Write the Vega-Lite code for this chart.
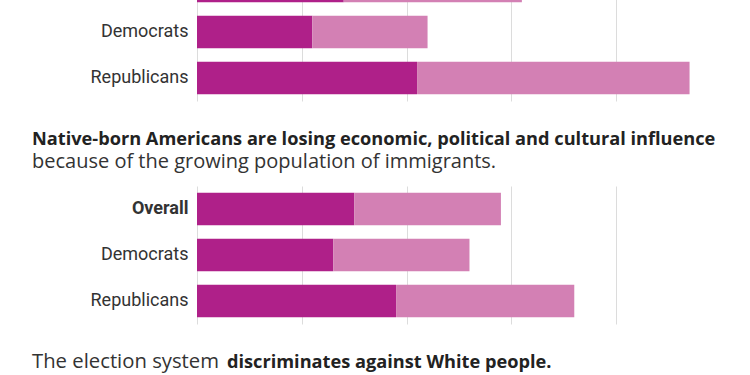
{
  "$schema": "https://vega.github.io/schema/vega-lite/v6.json",
  "padding": {"left": 32, "top": -37, "right": 0, "bottom": 0},
  "background": "white",
  "config": {
    "view": {"stroke": null},
    "font": "Roboto",
    "axis": {"labelFont": "Roboto"},
    "title": {"font": "Open Sans", "subtitleFont": "Open Sans"}
  },
  "datasets": {
    "survey": [
      {"question": "q1", "group": "Overall", "response": "Strongly agree", "pct": 28},
      {"question": "q1", "group": "Overall", "response": "Somewhat agree", "pct": 34},
      {"question": "q1", "group": "Democrats", "response": "Strongly agree", "pct": 22},
      {"question": "q1", "group": "Democrats", "response": "Somewhat agree", "pct": 22},
      {"question": "q1", "group": "Republicans", "response": "Strongly agree", "pct": 42},
      {"question": "q1", "group": "Republicans", "response": "Somewhat agree", "pct": 52},
      {"question": "q2", "group": "Overall", "response": "Strongly agree", "pct": 30},
      {"question": "q2", "group": "Overall", "response": "Somewhat agree", "pct": 28},
      {"question": "q2", "group": "Democrats", "response": "Strongly agree", "pct": 26},
      {"question": "q2", "group": "Democrats", "response": "Somewhat agree", "pct": 26},
      {"question": "q2", "group": "Republicans", "response": "Strongly agree", "pct": 38},
      {"question": "q2", "group": "Republicans", "response": "Somewhat agree", "pct": 34}
    ]
  },
  "spacing": 28,
  "vconcat": [
    {
      "width": 524,
      "height": 138,
      "data": {"name": "survey"},
      "transform": [{"filter": "datum.question === 'q1'"}],
      "mark": {"type": "bar"},
      "encoding": {
        "y": {
          "field": "group", "type": "nominal",
          "sort": ["Overall", "Democrats", "Republicans"],
          "scale": {"domain": ["Overall", "Democrats", "Republicans"], "paddingInner": 0.29, "paddingOuter": 0.145},
          "axis": {"title": null, "ticks": false, "domain": false, "labelPadding": 9, "labelFontSize": 18, "labelColor": "#333", "minExtent": 165, "values": ["Democrats", "Republicans"]}
        },
        "x": {
          "field": "pct", "type": "quantitative", "stack": "zero",
          "scale": {"domain": [0, 100]},
          "axis": {"title": null, "labels": false, "ticks": false, "domain": false, "grid": true, "gridColor": "#dcdcdc", "values": [0, 20, 40, 60, 80, 100]}
        },
        "color": {
          "field": "response", "type": "nominal",
          "scale": {"domain": ["Strongly agree", "Somewhat agree"], "range": ["#af2089", "#d380b4"]},
          "legend": null
        },
        "order": {"field": "response", "sort": "descending"}
      }
    },
    {
      "width": 524,
      "height": 138,
      "title": {
        "text": "Native-born Americans are losing economic, political and cultural influence",
        "subtitle": "because of the growing population of immigrants.",
        "anchor": "start", "frame": "bounds",
        "fontSize": 18.2, "fontWeight": "bold", "color": "#222",
        "subtitleFontSize": 20, "subtitleColor": "#333", "subtitlePadding": 3,
        "offset": 13
      },
      "data": {"name": "survey"},
      "transform": [{"filter": "datum.question === 'q2'"}],
      "mark": {"type": "bar"},
      "encoding": {
        "y": {
          "field": "group", "type": "nominal",
          "sort": ["Overall", "Democrats", "Republicans"],
          "scale": {"domain": ["Overall", "Democrats", "Republicans"], "paddingInner": 0.29, "paddingOuter": 0.145},
          "axis": {
            "title": null, "ticks": false, "domain": false, "labelPadding": 9, "labelFontSize": 18, "labelColor": "#333", "minExtent": 165,
            "labelFontWeight": {"condition": {"test": "datum.value === 'Overall'", "value": "bold"}, "value": "normal"}
          }
        },
        "x": {
          "field": "pct", "type": "quantitative", "stack": "zero",
          "scale": {"domain": [0, 100]},
          "axis": {"title": null, "labels": false, "ticks": false, "domain": false, "grid": true, "gridColor": "#dcdcdc", "values": [0, 20, 40, 60, 80, 100]}
        },
        "color": {
          "field": "response", "type": "nominal",
          "scale": {"domain": ["Strongly agree", "Somewhat agree"], "range": ["#af2089", "#d380b4"]},
          "legend": null
        },
        "order": {"field": "response", "sort": "descending"}
      }
    },
    {
      "spacing": 7,
      "hconcat": [
        {
          "width": 1, "height": 1,
          "title": {"text": "The election system", "anchor": "start", "fontSize": 20.3, "fontWeight": "normal", "color": "#333", "offset": 0, "dx": -165, "dy": 2},
          "data": {"values": [{}]},
          "mark": {"type": "text"},
          "encoding": {"text": {"value": ""}}
        },
        {
          "width": 1, "height": 1,
          "title": {"text": "discriminates against White people.", "anchor": "start", "fontSize": 18.2, "fontWeight": "bold", "color": "#222", "offset": 0, "dx": -165, "dy": 2},
          "data": {"values": [{}]},
          "mark": {"type": "text"},
          "encoding": {"text": {"value": ""}}
        }
      ]
    }
  ]
}
